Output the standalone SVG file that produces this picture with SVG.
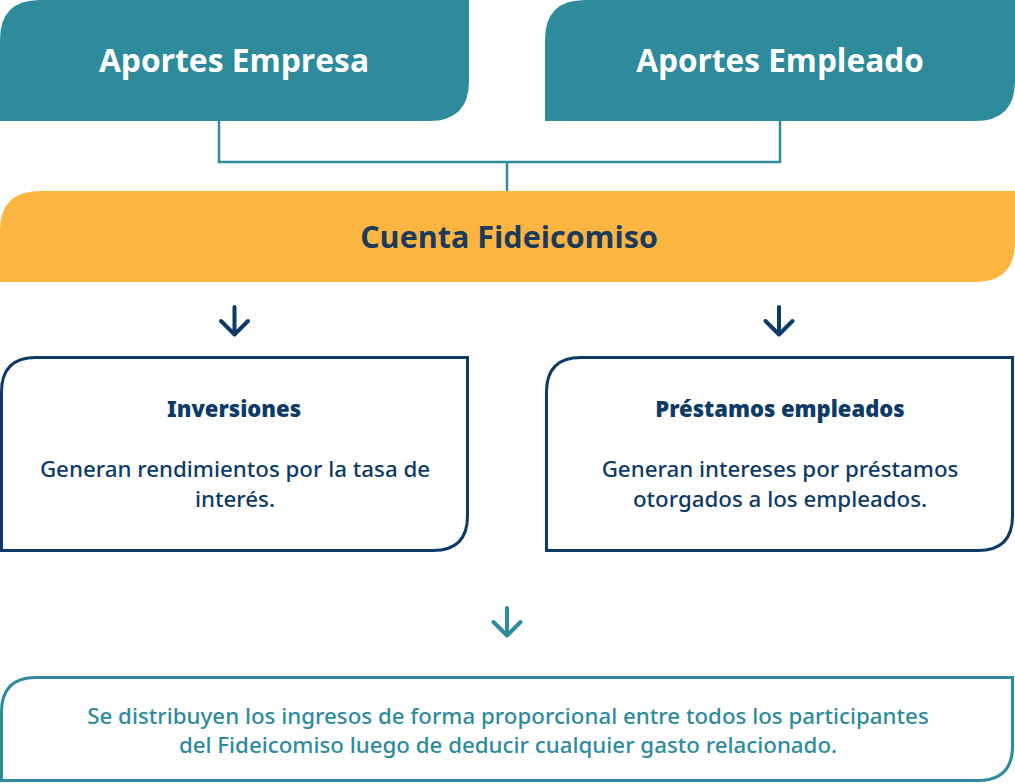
<svg xmlns="http://www.w3.org/2000/svg" width="1015" height="784" viewBox="0 0 1015 784">
<style>
.teal{fill:#2e8b9c}
.title{font-family:"Open Sans","Noto Sans",sans-serif;font-weight:700;text-anchor:middle}
.head{font-family:"Noto Sans","Open Sans",sans-serif;font-weight:900;font-size:22px;fill:#0d3b66;text-anchor:middle}
.body{font-family:"Noto Sans","Open Sans",sans-serif;font-weight:500;font-size:22.3px;text-anchor:middle}
.conn{fill:none;stroke:#2e8b9c;stroke-width:2.5}
.arr{fill:none;stroke-width:4;stroke-linecap:round;stroke-linejoin:round}
</style>
<g id="connectors">
<path class="conn" d="M219 121 V162 H780 V121 M507 162 V191"/>
<path class="arr" stroke="#0d3b66" d="M234.5 307 V334 M221 321 L234.5 334.5 L248 321"/>
<path class="arr" stroke="#0d3b66" d="M779 307 V334 M765.5 321 L779 334.5 L792.5 321"/>
<path class="arr" stroke="#2e8b9c" d="M507 608 V635 M493.5 622 L507 635.5 L520.5 622"/>
</g>
<g id="aportes-empresa">
<path class="teal" d="M0 40 Q0 0 40 0 H469 V81 Q469 121 429 121 H0 Z"/>
<text class="title" x="234" y="72" font-size="31.8" fill="#ffffff">Aportes Empresa</text>
</g>
<g id="aportes-empleado">
<path class="teal" d="M545 40 Q545 0 585 0 H1015 V81 Q1015 121 975 121 H545 Z"/>
<text class="title" x="780" y="72" font-size="31.6" fill="#ffffff">Aportes Empleado</text>
</g>
<g id="cuenta-fideicomiso">
<path fill="#fbb540" d="M0 231 Q0 191 40 191 H1015 V242 Q1015 282 975 282 H0 Z"/>
<text class="title" x="509" y="248" font-size="30.5" fill="#1b3a5c">Cuenta Fideicomiso</text>
</g>
<g id="inversiones">
<path fill="#fff" stroke="#0d3b66" stroke-width="3" d="M1.5 392 Q1.5 357.5 36 357.5 H467.5 V516 Q467.5 550.5 433 550.5 H1.5 Z"/>
<text class="head" x="234" y="417">Inversiones</text>
<text class="body" x="235" y="477" fill="#0d3b66">Generan rendimientos por la tasa de</text>
<text class="body" x="235" y="507" fill="#0d3b66">interés.</text>
</g>
<g id="prestamos">
<path fill="#fff" stroke="#0d3b66" stroke-width="3" d="M546.5 392 Q546.5 357.5 581 357.5 H1012.5 V516 Q1012.5 550.5 978 550.5 H546.5 Z"/>
<text class="head" x="780" y="417">Préstamos empleados</text>
<text class="body" x="780" y="477" fill="#0d3b66">Generan intereses por préstamos</text>
<text class="body" x="780" y="507" fill="#0d3b66">otorgados a los empleados.</text>
</g>
<g id="distribucion">
<path fill="#fff" stroke="#2e8b9c" stroke-width="3" d="M1.5 712 Q1.5 677.5 36 677.5 H1012.5 V746 Q1012.5 780.5 978 780.5 H1.5 Z"/>
<text class="body" x="508" y="724" fill="#2e8b9c">Se distribuyen los ingresos de forma proporcional entre todos los participantes</text>
<text class="body" x="508" y="753" fill="#2e8b9c">del Fideicomiso luego de deducir cualquier gasto relacionado.</text>
</g>
</svg>
